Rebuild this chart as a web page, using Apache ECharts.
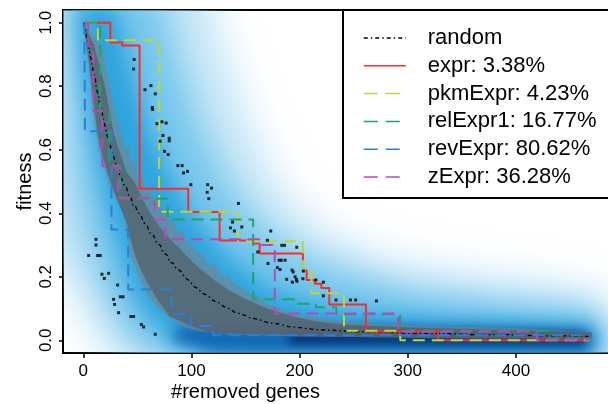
<!DOCTYPE html>
<html>
<head>
<meta charset="utf-8">
<script src="https://cdn.jsdelivr.net/npm/echarts@6/dist/echarts.min.js"></script>
<style>
  html, body { margin: 0; padding: 0; background: #fff; }
  #chart { width: 608px; height: 404px; }
</style>
</head>
<body>
<div id="chart"></div>
<script>
// tick labels
const xTicks = [0, 100, 200, 300, 400]
const yTicks = [0, 0.2, 0.4, 0.6, 0.8, 1.0]

// step curves: [#removed genes, fitness], value holds until next point
const exprSteps = [[1, 1.0], [25, 0.938], [36, 0.928], [52, 0.477], [97, 0.404], [126, 0.314], [157, 0.305], [163, 0.273], [203, 0.22], [206.5, 0.19], [214, 0.178], [220, 0.165], [227.4, 0.113], [261.3, 0.028], [328, 0.0], [468, 0.0]]
const pkmSteps = [[1, 1.0], [13.5, 0.945], [70, 0.405], [143, 0.312], [203, 0.222], [211, 0.148], [241, 0.03], [293, 0.0], [468, 0.0]]
const relSteps = [[1, 1.0], [15.5, 0.72], [24, 0.55], [34, 0.446], [78, 0.38], [157, 0.129], [196, 0.115], [215, 0.104], [234, 0.082], [293, 0.03], [431, 0.005], [468, 0.005]]
const revSteps = [[1, 1.0], [1.5, 0.658], [26, 0.349], [41.5, 0.16], [81.5, 0.082], [99, 0.045], [120, 0.016], [468, 0.01]]
const zSteps = [[1, 1.0], [4.6, 0.925], [9.2, 0.721], [17.5, 0.548], [32, 0.449], [65.6, 0.38], [75.7, 0.318], [164, 0.3], [177, 0.084], [291, 0.027], [419, 0.002], [468, 0.002]]

// random removal: mean curve, full spread and its dense core
const randMean = [[0, 1.0], [2, 0.985], [3, 0.95], [5, 0.935], [6, 0.9], [8, 0.875], [9, 0.845], [11, 0.83], [12, 0.79], [14, 0.775], [15, 0.74], [17, 0.725], [19, 0.69], [20, 0.685], [22, 0.645], [24, 0.63], [26, 0.595], [28, 0.58], [30, 0.555], [32, 0.545], [34, 0.515], [36, 0.505], [38, 0.485], [40, 0.48], [42, 0.455], [44, 0.45], [46, 0.425], [48, 0.425], [50, 0.405], [53, 0.395], [56, 0.37], [59, 0.36], [62, 0.335], [65, 0.33], [68, 0.305], [71, 0.3], [74, 0.275], [77, 0.27], [80, 0.245], [83, 0.243], [86, 0.225], [90, 0.218], [94, 0.197], [98, 0.188], [102, 0.17], [106, 0.163], [110, 0.148], [115, 0.141], [120, 0.125], [125, 0.12], [130, 0.106], [135, 0.1], [140, 0.088], [147, 0.082], [154, 0.071], [162, 0.066], [170, 0.056], [180, 0.052], [190, 0.043], [200, 0.04], [215, 0.033], [230, 0.032], [250, 0.027], [275, 0.026], [300, 0.022], [330, 0.022], [360, 0.018], [390, 0.018], [420, 0.014], [450, 0.014], [470, 0.012]]
const bandHigh = [[0, 1.0], [4, 0.995], [7, 0.97], [10, 0.955], [13, 0.94], [16, 0.93], [18, 0.92], [21, 0.86], [24, 0.81], [27, 0.76], [29, 0.72], [31, 0.7], [34, 0.66], [36, 0.64], [38, 0.615], [40, 0.6], [42, 0.62], [43, 0.575], [46, 0.55], [48, 0.57], [49, 0.51], [52, 0.49], [54, 0.52], [56, 0.47], [59, 0.465], [61, 0.49], [63, 0.455], [66, 0.44], [69, 0.46], [71, 0.42], [74, 0.4], [77, 0.41], [80, 0.375], [83, 0.38], [86, 0.35], [89, 0.34], [92, 0.345], [95, 0.315], [99, 0.3], [103, 0.29], [107, 0.27], [110, 0.275], [114, 0.245], [118, 0.235], [122, 0.24], [126, 0.21], [130, 0.2], [134, 0.205], [139, 0.18], [145, 0.17], [150, 0.155], [156, 0.145], [162, 0.135], [170, 0.115], [178, 0.105], [186, 0.095], [194, 0.085], [205, 0.075], [220, 0.068], [240, 0.06], [260, 0.055], [280, 0.05], [300, 0.048], [330, 0.045], [360, 0.042], [390, 0.04], [420, 0.035], [445, 0.03], [470, 0.025]]
const bandLow = [[0, 0.99], [2, 0.96], [5, 0.86], [7, 0.78], [9, 0.71], [12, 0.65], [14, 0.6], [18, 0.555], [23, 0.5], [27, 0.47], [30, 0.45], [33, 0.43], [36, 0.41], [40, 0.35], [42, 0.3], [44, 0.26], [47, 0.24], [50, 0.21], [54, 0.18], [58, 0.15], [62, 0.13], [66, 0.115], [70, 0.1], [74, 0.087], [80, 0.07], [86, 0.06], [92, 0.045], [100, 0.035], [110, 0.028], [125, 0.022], [140, 0.019], [170, 0.015], [200, 0.012], [250, 0.01], [300, 0.008], [360, 0.006], [420, 0.005], [470, 0.004]]
const coreHigh = [[0, 1.0], [10, 0.93], [20, 0.8], [28, 0.654], [33, 0.6], [40, 0.53], [47, 0.5], [55, 0.443], [62, 0.4], [70, 0.36], [80, 0.32], [90, 0.286], [100, 0.25], [110, 0.22], [124, 0.182], [136, 0.155], [150, 0.13], [170, 0.1], [194, 0.075], [215, 0.06], [240, 0.05], [300, 0.04], [400, 0.032], [470, 0.025]]
const coreLow = [[0, 0.99], [5, 0.88], [9, 0.76], [13, 0.654], [17, 0.59], [22, 0.53], [31, 0.443], [40, 0.37], [46, 0.286], [52, 0.23], [59, 0.182], [70, 0.12], [80, 0.075], [100, 0.045], [117, 0.025], [150, 0.02], [250, 0.012], [470, 0.006]]
const randDots = [[47, 0.884], [46.5, 0.854], [62.5, 0.802], [57, 0.789], [66.5, 0.776], [63.7, 0.733], [64, 0.727], [68, 0.682], [72.7, 0.688], [76.6, 0.684], [73.6, 0.645], [79.4, 0.636], [79.4, 0.628], [71, 0.627], [75, 0.595], [78.5, 0.585], [87.4, 0.55], [91.4, 0.55], [92.6, 0.527], [96.3, 0.532], [99.4, 0.49], [115, 0.49], [118.5, 0.479], [114.5, 0.466], [116, 0.446], [143.4, 0.431], [138, 0.372], [136, 0.354], [139.7, 0.344], [146.5, 0.357], [173.3, 0.344], [170.2, 0.315], [183.5, 0.299], [186, 0.299], [197.3, 0.293], [161.3, 0.278], [170.7, 0.242], [181, 0.252], [183, 0.252], [186.5, 0.252], [179.4, 0.229], [181.9, 0.223], [193, 0.221], [194, 0.215], [195.8, 0.2], [188, 0.192], [197, 0.192], [193.3, 0.183], [197.5, 0.186], [203, 0.194], [203.4, 0.218], [221.9, 0.183], [221.9, 0.14], [215, 0.19], [233.6, 0.127], [247, 0.127], [251.8, 0.127], [271, 0.124], [4.9, 0.267], [11.7, 0.318], [11.7, 0.3], [13.2, 0.267], [15.7, 0.267], [17.2, 0.208], [19.4, 0.195], [23.4, 0.211], [31.7, 0.174], [28, 0.129], [28.9, 0.113], [34.2, 0.137], [36.7, 0.137], [32.6, 0.087], [44, 0.075], [46.5, 0.075], [53.6, 0.05], [55.7, 0.042], [66.5, 0.019]]

// smoothed density of random runs, outlines of each shade level
const densityOuter = [[-40, 1.15], [110, 1.15], [130, 0.9], [150, 0.7], [175, 0.5], [215, 0.35], [280, 0.25], [360, 0.2], [440, 0.17], [480, 0.14], [495, 0.05], [495, -0.1], [40, -0.1], [15, 0.0], [0, 0.1], [-15, 0.2], [-40, 0.3]]
const densityMid = [[-10, 1.1], [70, 1.1], [90, 0.85], [110, 0.65], [135, 0.48], [170, 0.34], [220, 0.24], [300, 0.16], [400, 0.12], [470, 0.1], [485, 0.04], [485, -0.08], [90, -0.08], [50, -0.02], [25, 0.1], [8, 0.25], [-5, 0.45], [-10, 0.6]]
const densityInner = [[-8, 1.06], [30, 1.06], [45, 0.85], [60, 0.68], [80, 0.52], [105, 0.38], [135, 0.26], [175, 0.16], [230, 0.1], [320, 0.07], [420, 0.055], [470, 0.05], [478, 0.0], [470, -0.05], [150, -0.05], [95, -0.02], [65, 0.05], [45, 0.15], [32, 0.3], [20, 0.45], [8, 0.65], [-3, 0.85]]
const densityCore = [[90, 0.05], [160, 0.05], [250, 0.045], [400, 0.04], [468, 0.035], [472, 0.0], [468, -0.04], [120, -0.04], [80, 0.0]]
const densityPeak = [[190, 0.025], [300, 0.025], [460, 0.02], [465, 0.0], [460, -0.012], [190, -0.012]]

const FONT = "'Liberation Sans', Arial, Helvetica, sans-serif"
const DASH = [12, 7]
const OFF = 3000 // shape is moved off screen, only its blurred shadow stays

const chartInstance = echarts.init(document.getElementById('chart'), null, { renderer: 'canvas' })

function shade (name, pts, color, blur) {
  return {
    type: 'custom',
    name: name,
    silent: true,
    clip: true,
    z: 1,
    data: [[0, 0]],
    renderItem: (params, api) => {
      const points = pts.map(p => {
        const c = api.coord(p)
        return [c[0] - OFF, c[1]]
      })
      return {
        type: 'polygon',
        shape: { points: points },
        style: { fill: '#000', shadowBlur: blur, shadowColor: color, shadowOffsetX: OFF, shadowOffsetY: 0 }
      }
    }
  }
}

function band (name, high, low, color) {
  return {
    type: 'custom',
    name: name,
    silent: true,
    clip: true,
    z: 2,
    data: [[0, 0]],
    renderItem: (params, api) => {
      const pts = high.concat(low.slice().reverse()).map(p => api.coord(p))
      return { type: 'polygon', shape: { points: pts }, style: { fill: color } }
    }
  }
}

function stepLine (name, data, color, type) {
  return {
    type: 'line',
    name: name,
    data: data,
    step: 'end',
    symbol: 'none',
    showSymbol: false,
    silent: true,
    z: 4,
    lineStyle: { color: color, width: 2, type: type },
    itemStyle: { color: color }
  }
}

const option = {
  animation: false,
  backgroundColor: '#fff',
  grid: {
    left: 63, top: 10, width: 549, height: 343,
    outerBoundsMode: 'none',
    containLabel: false,
    show: true, borderColor: '#000', borderWidth: 2, backgroundColor: 'transparent'
  },
  xAxis: {
    type: 'value',
    min: -18.8,
    max: 488.8,
    name: '#removed genes',
    nameLocation: 'middle',
    nameGap: 29,
    nameMoveOverlap: false,
    nameTextStyle: { fontFamily: FONT, fontSize: 20, color: '#000', padding: [0, 184, 0, 0] },
    axisLine: { show: false, onZero: false },
    splitLine: { show: false },
    axisTick: { show: true, length: 5, customValues: xTicks, lineStyle: { color: '#000', width: 1.5 } },
    axisLabel: { customValues: xTicks, fontFamily: FONT, fontSize: 17, color: '#000', margin: 10 }
  },
  yAxis: {
    type: 'value',
    min: -0.04,
    max: 1.04,
    name: 'fitness',
    nameLocation: 'middle',
    nameGap: 28,
    nameMoveOverlap: false,
    nameTextStyle: { fontFamily: FONT, fontSize: 20, color: '#000' },
    axisLine: { show: false, onZero: false },
    splitLine: { show: false },
    axisTick: { show: true, length: 4, customValues: yTicks, lineStyle: { color: '#000', width: 1.5 } },
    axisLabel: {
      customValues: yTicks, rotate: 90, fontFamily: FONT, fontSize: 17, color: '#000', margin: 8,
      formatter: v => v.toFixed(1)
    }
  },
  legend: {
    orient: 'vertical',
    left: 343,
    top: 10,
    padding: [17, 40, 10, 20],
    itemWidth: 42,
    itemHeight: 20,
    itemGap: 5.8,
    borderColor: '#000',
    borderWidth: 2,
    backgroundColor: '#fff',
    selectedMode: false,
    itemStyle: { opacity: 0 },
    textStyle: { fontFamily: FONT, fontSize: 22, color: '#000', padding: [0, 0, 0, 17] },
    data: [
      { name: 'random', lineStyle: { type: [4, 3, 1.5, 3], width: 1.3 } },
      { name: 'expr: 3.38%', lineStyle: { type: 'solid', width: 1.5 } },
      { name: 'pkmExpr: 4.23%', lineStyle: { type: [14, 8], width: 1.5 } },
      { name: 'relExpr1: 16.77%', lineStyle: { type: [14, 8], width: 1.5 } },
      { name: 'revExpr: 80.62%', lineStyle: { type: [14, 8], width: 1.5 } },
      { name: 'zExpr: 36.28%', lineStyle: { type: [14, 8], width: 1.5 } }
    ]
  },
  series: [
    shade('densityOuter', densityOuter, 'rgba(150,210,240,0.6)', 40),
    shade('densityMid', densityMid, 'rgba(70,180,230,0.6)', 30),
    shade('densityInner', densityInner, 'rgba(15,150,215,0.7)', 22),
    shade('densityCore', densityCore, 'rgba(10,90,170,0.8)', 14),
    shade('densityPeak', densityPeak, 'rgba(5,45,105,0.85)', 8),
    band('spread', bandHigh, bandLow, 'rgba(118,132,142,0.62)'),
    band('spreadCore', coreHigh, coreLow, 'rgba(82,92,100,0.68)'),
    {
      type: 'line',
      name: 'random',
      data: randMean,
      symbol: 'none',
      showSymbol: false,
      silent: true,
      z: 3,
      lineStyle: { color: '#000', width: 1.3, type: [4, 3, 1.5, 3] },
      itemStyle: { color: '#000' }
    },
    stepLine('expr: 3.38%', exprSteps, '#ff2a2a', 'solid'),
    stepLine('pkmExpr: 4.23%', pkmSteps, '#bcd634', DASH),
    stepLine('relExpr1: 16.77%', relSteps, '#1aa86a', DASH),
    stepLine('revExpr: 80.62%', revSteps, '#2b7fd4', DASH),
    stepLine('zExpr: 36.28%', zSteps, '#c044b8', DASH),
    {
      type: 'scatter',
      name: 'randomPoints',
      data: randDots,
      symbol: 'rect',
      symbolSize: 3,
      silent: true,
      z: 5,
      itemStyle: { color: '#000' }
    }
  ]
}

chartInstance.setOption(option)
</script>
</body>
</html>
